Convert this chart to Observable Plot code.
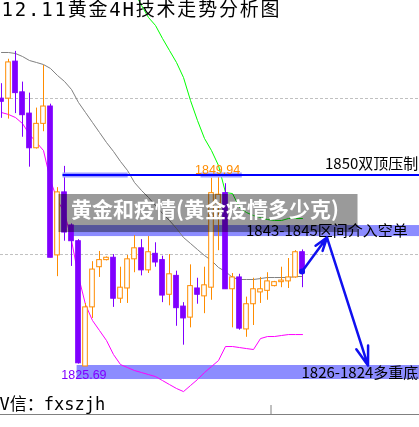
<!DOCTYPE html>
<html><head><meta charset="utf-8">
<script src="https://cdn.jsdelivr.net/npm/d3@7"></script>
<script src="https://cdn.jsdelivr.net/npm/@observablehq/plot@0.6"></script>
<style>html,body{margin:0;padding:0;background:#fff;overflow:hidden}</style>
</head><body><div id="chart"></div>
<script>
// ---- candle data (4H bars) ----
const opens  = [1859.7,1859.7,1864.4,1860.5,1857.8,1853.4,1856.5,1858.7,1839.8,1847.8,1843.6,1841.6,1825.7,1833.2,1838.3,1839.2,1839.5,1834.3,1835.6,1839.3,1840.7,1837.9,1840.0,1839.2,1834.8,1837.2,1833.3,1831.9,1835.6,1834.6,1835.7,1846.4,1847.7,1835.5,1837.0,1830.4,1833.6,1835.1,1835.3,1835.9,1836.4,1836.5,1837.0,1840.2];
const highs  = [1861.6,1864.7,1865.7,1861.8,1860.4,1858.5,1863.9,1859.0,1848.4,1851.1,1843.8,1841.8,1833.7,1839.0,1840.3,1839.6,1839.9,1838.3,1839.8,1842.3,1841.8,1842.2,1841.4,1839.7,1839.9,1837.8,1833.8,1838.6,1836.9,1838.3,1849.6,1849.94,1848.9,1837.5,1837.4,1834.5,1836.9,1837.0,1837.6,1836.5,1838.3,1839.4,1840.4,1840.5];
const lows   = [1857.2,1857.1,1857.8,1854.8,1851.0,1853.3,1855.5,1839.5,1837.1,1841.6,1838.4,1826.0,1825.69,1831.8,1837.0,1839.1,1833.2,1833.7,1833.7,1837.6,1837.2,1837.5,1838.3,1833.8,1833.4,1830.8,1828.4,1830.6,1833.6,1832.4,1834.1,1840.4,1835.5,1830.6,1830.3,1829.4,1830.9,1833.7,1834.1,1835.8,1835.7,1835.6,1836.9,1835.7];
const closes = [1859.3,1864.3,1860.4,1857.6,1853.4,1856.5,1858.7,1839.5,1847.8,1842.7,1841.6,1826.1,1833.2,1838.0,1839.2,1839.5,1834.3,1835.7,1839.3,1840.7,1837.9,1840.2,1838.9,1834.7,1837.4,1833.1,1831.8,1835.9,1834.8,1836.0,1847.7,1847.5,1835.5,1837.0,1830.5,1833.6,1835.5,1835.5,1836.5,1836.4,1836.6,1837.0,1840.2,1837.5];

// ---- indicator lines ----
const maGray = [1865.56,1865.56,1865.43,1865.05,1864.54,1864.29,1864.03,1863.53,1862.64,1861.88,1860.86,1859.21,1857.94,1856.67,1855.40,1854.13,1852.99,1851.72,1850.58,1849.05,1848.04,1847.15,1846.13,1845.12,1844.23,1843.21,1842.07,1841.31,1840.54,1839.78,1839.15,1838.26,1837.75,1836.99,1836.74,1836.74,1836.74,1836.86,1836.99,1836.99,1836.99,1836.99,1837.12,1837.12];
const lowerBand = [1857.94,1857.69,1857.30,1856.54,1855.15,1854.13,1853.11,1849.31,1846.77,1845.24,1841.69,1837.12,1833.56,1831.53,1830.26,1828.99,1827.21,1825.94,1825.56,1825.18,1824.93,1824.67,1824.42,1823.91,1823.40,1822.90,1822.51,1823.28,1824.04,1824.93,1825.69,1826.45,1828.23,1828.23,1828.10,1827.97,1827.85,1829.24,1829.50,1829.50,1829.63,1829.75,1829.75,1829.75];
const upperStart = 20;
const upperBand = [1873.18,1871.53,1870.00,1868.99,1867.34,1865.81,1864.29,1862.38,1859.46,1856.92,1854.64,1853.11,1851.21,1847.78,1847.65,1845.88,1845.24,1844.86,1844.61,1844.35,1844.23,1844.23,1844.48,1844.48,1844.48];

// ---- annotations ----
const dashedLevels = [1859.72, 1839.91];
const resistance = {level: 1850.0, from: 9.79};
const halos = [{x1: 9.79, x2: 19.1}, {x1: 29.5, x2: 35.4}];
const zones = [
  {x1: 11.07, lo: 1842.19, hi: 1843.59},
  {x1: 11.8,  lo: 1824.04, hi: 1825.82}
];
const banner = {x1: 9.21, x2: 51.93, lo: 1842.70, hi: 1847.53, x: 10.93, y: 1845.55, text: "黄金和疫情(黄金疫情多少克)"};
const notesRight = [
  {x: 60.55, y: 1851.34, text: "1850双顶压制"},
  {x: 60.55, y: 1824.90, text: "1826-1824多重底"}
];
const notesLeft = [
  {x: 35.93, y: 1842.85, text: "1843-1845区间介入空单"}
];
const priceLabels = [
  {x: 28.64, y: 1850.62, text: "1849.94", color: "#ff8c00"},
  {x: 9.55,  y: 1824.65, text: "1825.69", color: "#8000ff"}
];
const arrows = [
  {x1: 43.93, y1: 1837.75, x2: 47.5, y2: 1842.07},
  {x1: 47.5, y1: 1842.07, x2: 53.36, y2: 1825.82}
];
const axisLevel = 1819.6;
const dayTick = {x: 39.5, lo: 1819.6, hi: 1820.74};
const title = "12.11黄金4H技术走势分析图";
const footer = "V信：fxszjh";

const candles = opens.map((o, k) => ({i: k + 1, open: o, high: highs[k], low: lows[k], close: closes[k], up: closes[k] >= o}));
const grayPts = maGray.map((v, k) => ({i: k + 1, v}));
const lowerPts = lowerBand.map((v, k) => ({i: k + 1, v}));
const upperPts = upperBand.map((v, k) => ({i: k + upperStart, v}));

const PURPLE = "#8000ff", ORANGE = "#ff8c00", BLUE = "#1010f0";
const W = 0.33;
const cjk = "'Noto Sans CJK SC', sans-serif";

const chart = Plot.plot({
  width: 419, height: 427, margin: 0,
  x: {domain: [1 - 1/7, 1 - 1/7 + 419/7], axis: null},
  y: {domain: [1817.95, 1872.16], axis: null},
  marks: [
    Plot.ruleY(dashedLevels, {stroke: "#c0c0c0", strokeDasharray: "3,2"}),
    Plot.rect(zones, {x1: "x1", x2: () => 61, y1: "lo", y2: "hi", fill: "#8c8cff"}),
    Plot.line(lowerPts, {x: "i", y: "v", stroke: "#ff00ff", strokeWidth: 1}),
    Plot.line(grayPts, {x: "i", y: "v", stroke: "#808080", strokeWidth: 1}),
    Plot.line(upperPts, {x: "i", y: "v", stroke: "#00ff00", strokeWidth: 1}),
    Plot.ruleX(candles, {x: "i", y1: "low", y2: "high", stroke: d => d.up ? ORANGE : PURPLE}),
    Plot.rect(candles, {x1: d => d.i - W, x2: d => d.i + W, y1: "open", y2: "close",
      fill: d => d.up ? "#ffffff" : PURPLE, stroke: d => d.up ? ORANGE : PURPLE, strokeWidth: 1}),
    Plot.ruleY(halos, {x1: "x1", x2: "x2", y: () => resistance.level, stroke: "#a0a0ff", strokeWidth: 5}),
    Plot.ruleY([resistance], {x1: "from", x2: () => 61, y: "level", stroke: "#0000ff", strokeWidth: 2}),
    Plot.rect([banner], {x1: "x1", x2: "x2", y1: "lo", y2: "hi", fill: "#9a9a9a", mixBlendMode: "multiply"}),
    Plot.text([banner], {x: "x", y: "y", text: "text", textAnchor: "start", fill: "#ffffff",
      fontSize: 21, fontWeight: "bold", fontFamily: cjk}),
    Plot.text(notesRight, {x: "x", y: "y", text: "text", textAnchor: "end", fill: "#000000", fontSize: 15, fontFamily: cjk}),
    Plot.text(notesLeft, {x: "x", y: "y", text: "text", textAnchor: "start", fill: "#000000", fontSize: 15, fontFamily: cjk}),
    Plot.text(priceLabels, {x: "x", y: "y", text: "text", textAnchor: "start", fill: "color", fontSize: 12.5, fontFamily: "'Liberation Sans', Arial, sans-serif"}),
    Plot.arrow(arrows, {x1: "x1", y1: "y1", x2: "x2", y2: "y2", stroke: BLUE, strokeWidth: 2.5, headLength: 12, headAngle: 36}),
    Plot.dot([arrows[0]], {x: "x1", y: "y1", r: 3, fill: BLUE}),
    Plot.ruleY([axisLevel], {stroke: "#808080", strokeWidth: 1}),
    Plot.ruleX([dayTick], {x: "x", y1: "lo", y2: "hi", stroke: "#808080"}),
    Plot.text([title], {frameAnchor: "top-left", dx: 1, dy: 2, fontSize: 19, fill: "#000",
      fontFamily: "'DejaVu Sans Mono', 'Noto Sans CJK SC', monospace"}),
    Plot.text([footer], {frameAnchor: "bottom-left", lineAnchor: "middle", dx: -1, dy: -23, fontSize: 17, fill: "#000",
      fontFamily: "'DejaVu Sans Mono', 'Noto Sans CJK SC', monospace"})
  ]
});
d3.select(chart).selectAll("text").filter(function () { return this.textContent === title; })
  .attr("letter-spacing", "1.8");
document.getElementById("chart").appendChild(chart);
</script>
</body></html>
